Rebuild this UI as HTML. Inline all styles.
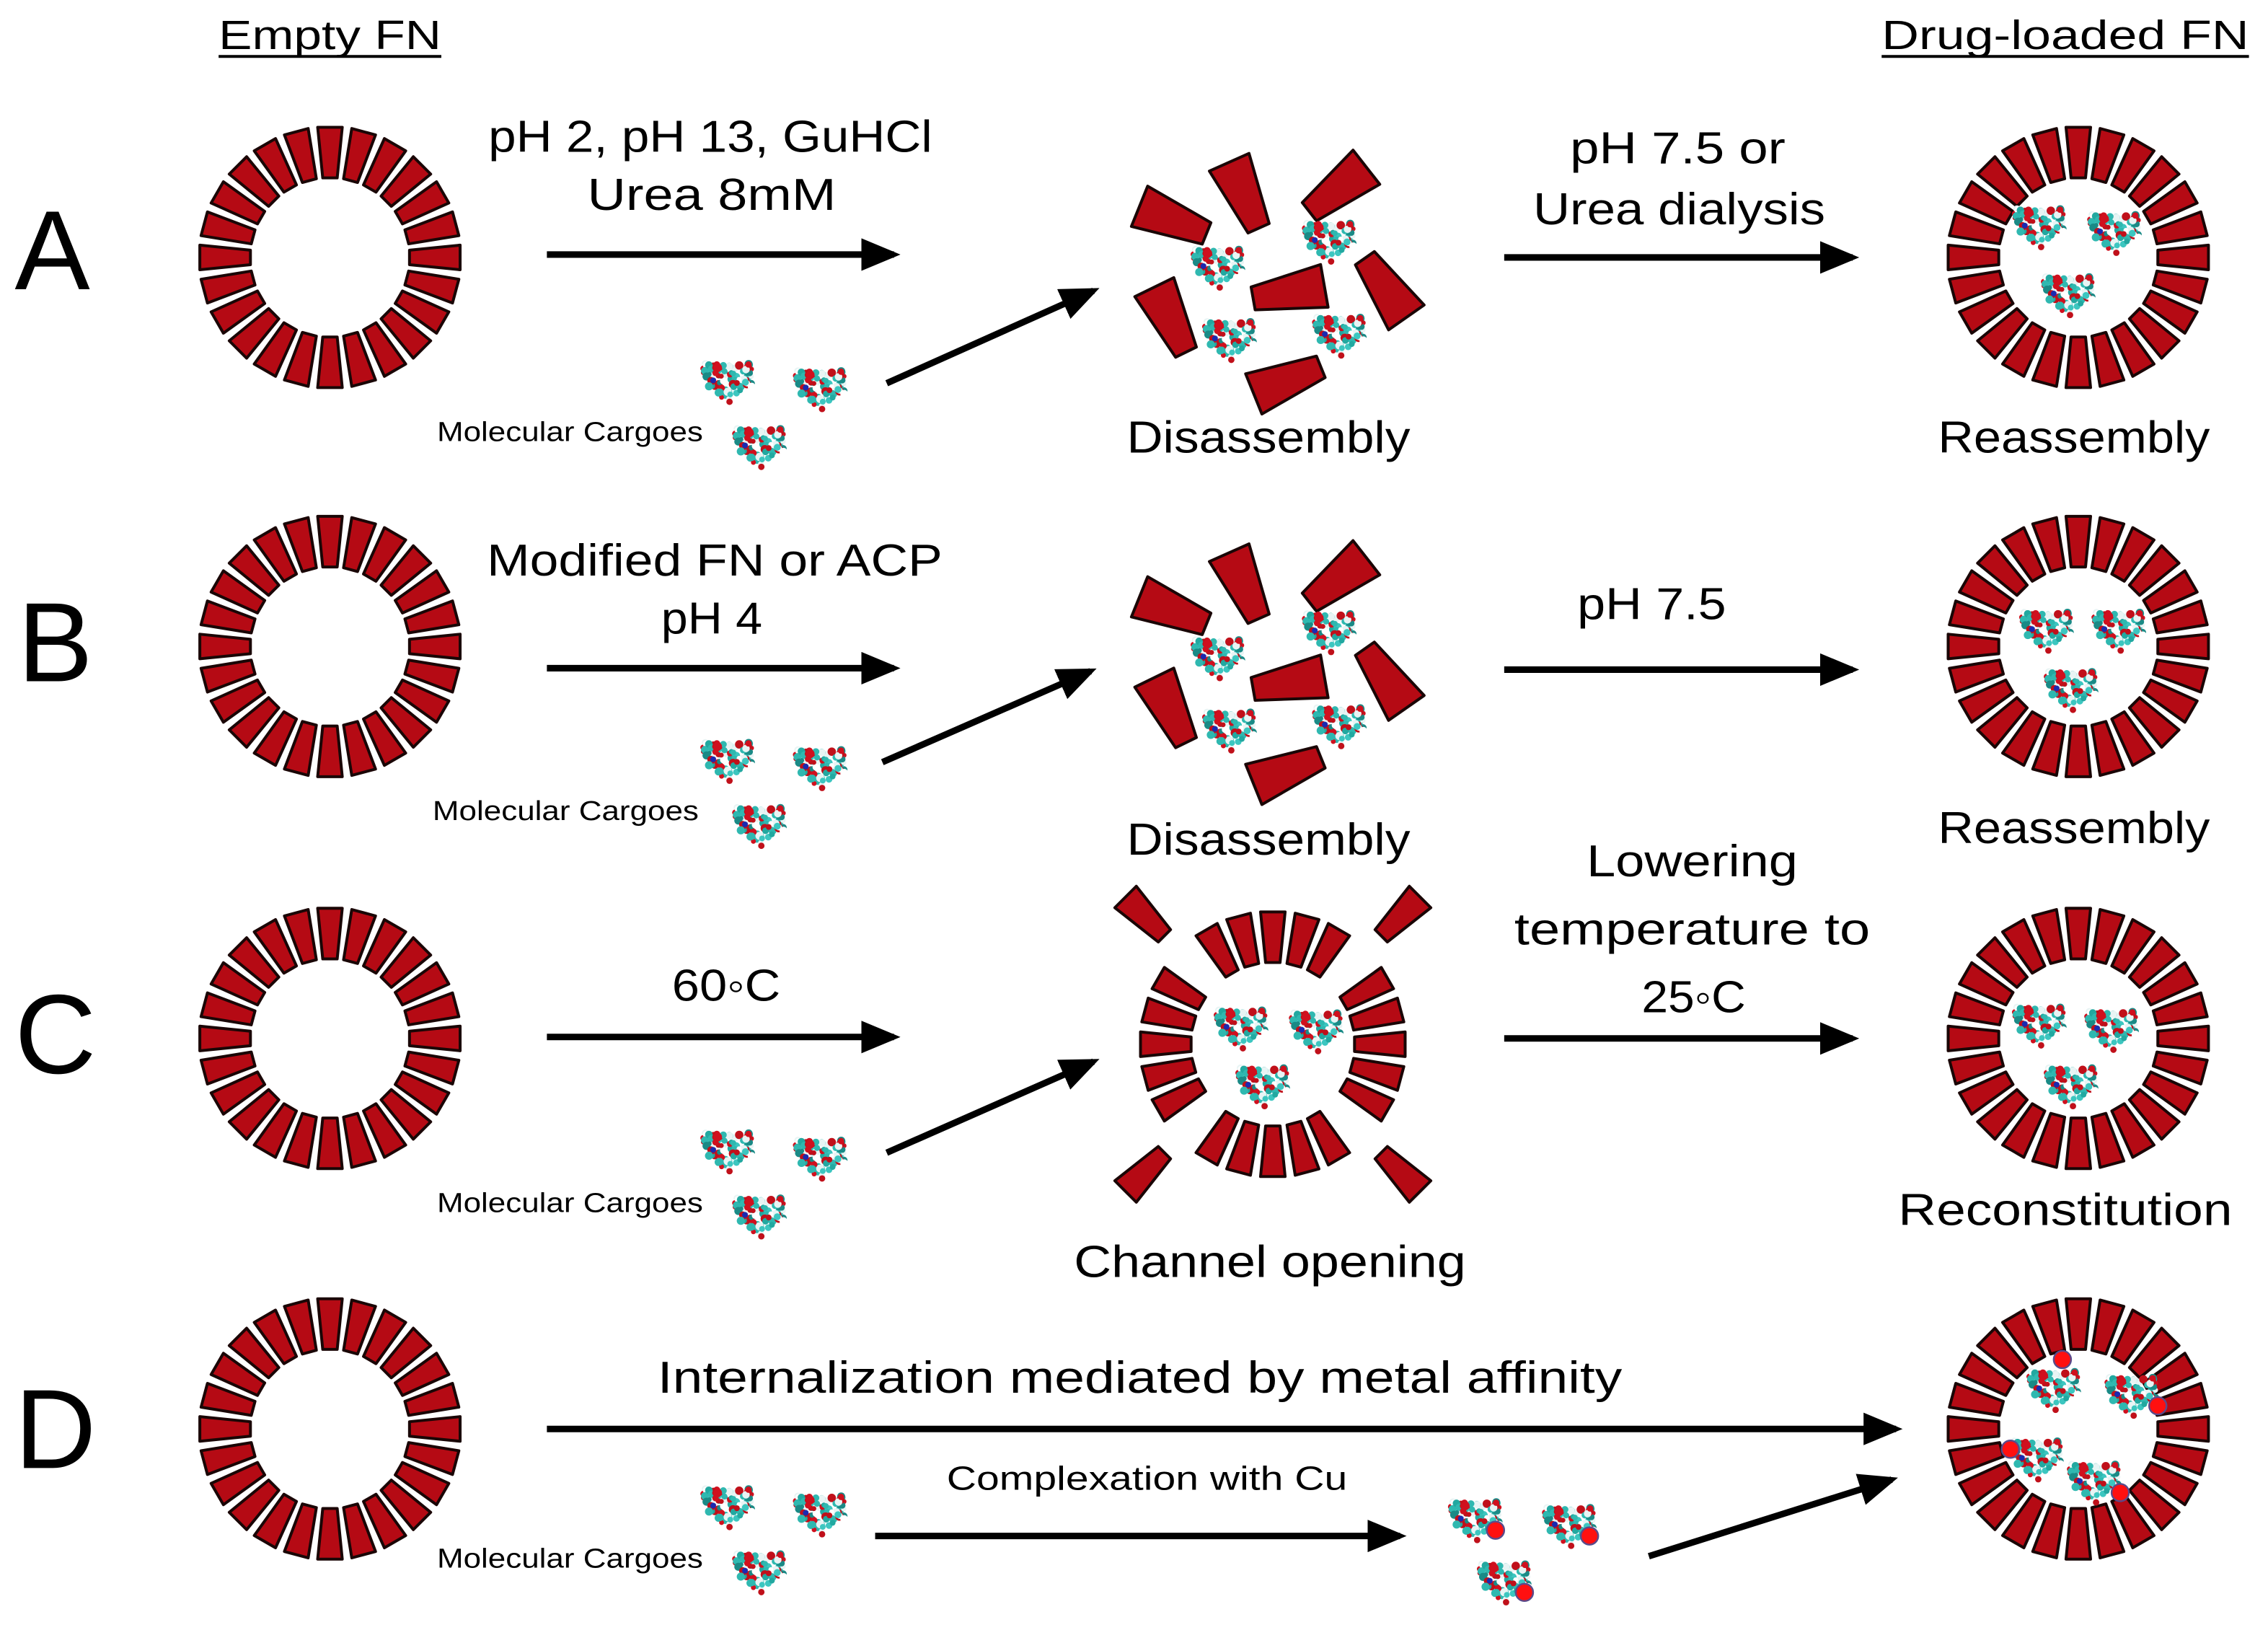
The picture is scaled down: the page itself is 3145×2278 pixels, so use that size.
<!DOCTYPE html>
<html><head><meta charset="utf-8">
<style>
html,body{margin:0;padding:0;background:#fff;}
svg{display:block;}
text{font-family:"Liberation Sans",sans-serif;fill:#000;}
</style></head>
<body>
<svg id="s" xmlns="http://www.w3.org/2000/svg" width="3145" height="2278" viewBox="0 0 1568 1136">
<defs>
<marker id="ah" markerWidth="6" markerHeight="5" refX="5" refY="2.5" orient="auto" markerUnits="strokeWidth">
<path d="M0,0 L6,2.5 L0,5 z" fill="#000"/></marker>
</defs>
<g id="g"></g>
<text x="228" y="34" font-size="28" text-anchor="middle" textLength="154" lengthAdjust="spacingAndGlyphs">Empty FN</text>
<line x1="151" y1="39" x2="305" y2="39" stroke="#000" stroke-width="2"/>
<text x="1428" y="34" font-size="28" text-anchor="middle" textLength="254" lengthAdjust="spacingAndGlyphs">Drug-loaded FN</text>
<line x1="1301" y1="39" x2="1555" y2="39" stroke="#000" stroke-width="2"/>
<text x="10" y="200" font-size="78">A</text>
<text x="12" y="471" font-size="78">B</text>
<text x="10" y="742" font-size="78">C</text>
<text x="10" y="1015" font-size="78">D</text>
<text x="491" y="105" font-size="31" text-anchor="middle" textLength="307" lengthAdjust="spacingAndGlyphs">pH 2, pH 13, GuHCl</text>
<text x="492" y="145" font-size="31" text-anchor="middle" textLength="172" lengthAdjust="spacingAndGlyphs">Urea 8mM</text>
<text x="394" y="305" font-size="19" text-anchor="middle" textLength="184" lengthAdjust="spacingAndGlyphs">Molecular Cargoes</text>
<text x="877" y="313" font-size="31" text-anchor="middle" textLength="196" lengthAdjust="spacingAndGlyphs">Disassembly</text>
<text x="1160" y="113" font-size="31" text-anchor="middle" textLength="149" lengthAdjust="spacingAndGlyphs">pH 7.5 or</text>
<text x="1161" y="155" font-size="31" text-anchor="middle" textLength="202" lengthAdjust="spacingAndGlyphs">Urea dialysis</text>
<text x="1434" y="313" font-size="31" text-anchor="middle" textLength="188" lengthAdjust="spacingAndGlyphs">Reassembly</text>
<text x="494" y="398" font-size="31" text-anchor="middle" textLength="315" lengthAdjust="spacingAndGlyphs">Modified FN or ACP</text>
<text x="492" y="438" font-size="31" text-anchor="middle" textLength="70" lengthAdjust="spacingAndGlyphs">pH 4</text>
<text x="391" y="567" font-size="19" text-anchor="middle" textLength="184" lengthAdjust="spacingAndGlyphs">Molecular Cargoes</text>
<text x="877" y="591" font-size="31" text-anchor="middle" textLength="196" lengthAdjust="spacingAndGlyphs">Disassembly</text>
<text x="1142" y="428" font-size="31" text-anchor="middle" textLength="103" lengthAdjust="spacingAndGlyphs">pH 7.5</text>
<text x="1434" y="583" font-size="31" text-anchor="middle" textLength="188" lengthAdjust="spacingAndGlyphs">Reassembly</text>
<text x="502" y="692" font-size="31" text-anchor="middle" textLength="75" lengthAdjust="spacingAndGlyphs">60◦C</text>
<text x="394" y="838" font-size="19" text-anchor="middle" textLength="184" lengthAdjust="spacingAndGlyphs">Molecular Cargoes</text>
<text x="878" y="883" font-size="31" text-anchor="middle" textLength="271" lengthAdjust="spacingAndGlyphs">Channel opening</text>
<text x="1170" y="606" font-size="31" text-anchor="middle" textLength="146" lengthAdjust="spacingAndGlyphs">Lowering</text>
<text x="1170" y="653" font-size="31" text-anchor="middle" textLength="246" lengthAdjust="spacingAndGlyphs">temperature to</text>
<text x="1171" y="700" font-size="31" text-anchor="middle" textLength="72" lengthAdjust="spacingAndGlyphs">25◦C</text>
<text x="1428" y="847" font-size="31" text-anchor="middle" textLength="231" lengthAdjust="spacingAndGlyphs">Reconstitution</text>
<text x="788" y="963" font-size="31" text-anchor="middle" textLength="667" lengthAdjust="spacingAndGlyphs">Internalization mediated by metal affinity</text>
<text x="793" y="1030" font-size="23" text-anchor="middle" textLength="277" lengthAdjust="spacingAndGlyphs">Complexation with Cu</text>
<text x="394" y="1084" font-size="19" text-anchor="middle" textLength="184" lengthAdjust="spacingAndGlyphs">Molecular Cargoes</text>
<g stroke="#000" stroke-width="4.5" fill="none" marker-end="url(#ah)">
<line x1="378" y1="176" x2="618" y2="176"/>
<line x1="613" y1="265" x2="756" y2="201"/>
<line x1="1040" y1="178" x2="1281" y2="178"/>
<line x1="378" y1="462" x2="618" y2="462"/>
<line x1="610" y1="527" x2="754" y2="464"/>
<line x1="1040" y1="463" x2="1281" y2="463"/>
<line x1="378" y1="717" x2="618" y2="717"/>
<line x1="613" y1="797" x2="756" y2="734"/>
<line x1="1040" y1="718" x2="1281" y2="718"/>
<line x1="378" y1="988" x2="1311" y2="988"/>
<line x1="605" y1="1062" x2="968" y2="1062"/>
<line x1="1140" y1="1076" x2="1308" y2="1023"/>
</g>
</svg>
<script>
(function(){
var NS="http://www.w3.org/2000/svg",g=document.getElementById("g");
function el(n,a){var e=document.createElementNS(NS,n);for(var k in a)e.setAttribute(k,a[k]);g.appendChild(e);return e;}
function trap(cx,cy,ang,L,W,N){
 var a=ang*Math.PI/180,ux=Math.cos(a),uy=Math.sin(a),px=-uy,py=ux;
 var p=[[-L/2,W/2],[L/2,N/2],[L/2,-N/2],[-L/2,-W/2]].map(function(q){return (cx+ux*q[0]+px*q[1]).toFixed(2)+","+(cy+uy*q[0]+py*q[1]).toFixed(2);});
 el("polygon",{points:p.join(" "),fill:"#b50a14",stroke:"#1a0606","stroke-width":"2","stroke-linejoin":"round"});
}
function seg(cx,cy,deg,rO,rI){
 var a=deg*Math.PI/180,rm=(rO+rI)/2;
 trap(cx+Math.cos(a)*rm,cy+Math.sin(a)*rm,deg+180,rO-rI-2,17,10);
}
function ring(cx,cy){for(var i=0;i<24;i++)seg(cx,cy,i*15,91,54);}
var seed=7;function rnd(){seed=(seed*16807)%2147483647;return seed/2147483647;}
function cargo(cx,cy,dot){
 seed=12345;
 var cols=["#2fb8b0","#3cc6c0","#22a8a0","#d0101e","#e8f4f4","#2fb8b0","#c0101a","#1a8a86","#fff","#2fb8b0"];
 for(var i=0;i<110;i++){
  var x=(rnd()-0.5)*34,y=(rnd()-0.5)*28;
  if(y>3&&Math.abs(x+2)>14-(y-3)*1.0)continue;
  var c=cols[Math.floor(rnd()*cols.length)];
  if(y>5&&rnd()<0.6)c="#2fb8b0";
  el("circle",{cx:(cx+x).toFixed(1),cy:(cy+y).toFixed(1),r:(1.7+rnd()*1.3).toFixed(1),fill:c});
 }
 el("circle",{cx:cx-10,cy:cy-2,r:2,fill:"#1a2ab0"});
 if(dot)el("circle",{cx:cx+dot[0],cy:cy+dot[1],r:6,fill:"#ff1010",stroke:"#5a4a8a","stroke-width":"1.2"});
}
[178,447,718,988].forEach(function(y){ring(228,y);});
[178,447,718,988].forEach(function(y){ring(1437,y);});
function dis(dy){
 var f=[[811,152,22],[860,135,66],[925,131,142],[809,221,64],[891,202,170],[958,199,235],[890,263,-22]];
 f.forEach(function(q){trap(q[0],q[1]+dy,q[2],50,30,16);});
 cargo(842,186+dy);cargo(919,168+dy);cargo(850,236+dy);cargo(926,233+dy);
}
dis(0);dis(270);
(function(){var cx=880,cy=722;
 for(var i=0;i<24;i++){var d=i*15;if(d%90==45){var a=d*Math.PI/180,rm=125;trap(cx+Math.cos(a)*rm,cy+Math.sin(a)*rm,d+180,38,21,12);}else{var a2=d*Math.PI/180,rm2=74;trap(cx+Math.cos(a2)*rm2,cy+Math.sin(a2)*rm2,d+180,35,17,10);}}
 cargo(858,712);cargo(910,714);cargo(873,752);
})();
[265,527,797,1043].forEach(function(y){var dy=y-265;cargo(503,265+dy);cargo(567,270+dy);cargo(525,310+dy);});
cargo(1410,158);cargo(1462,162);cargo(1430,205);
cargo(1415,437);cargo(1465,437);cargo(1432,478);
cargo(1410,710);cargo(1460,713);cargo(1432,752);
cargo(1020,1052,[14,6]);cargo(1085,1056,[14,6]);cargo(1040,1095,[14,6]);
cargo(1420,962,[6,-22]);cargo(1474,966,[18,6]);cargo(1408,1010,[-18,-8]);cargo(1448,1026,[18,6]);
})();
</script>
</body></html>
